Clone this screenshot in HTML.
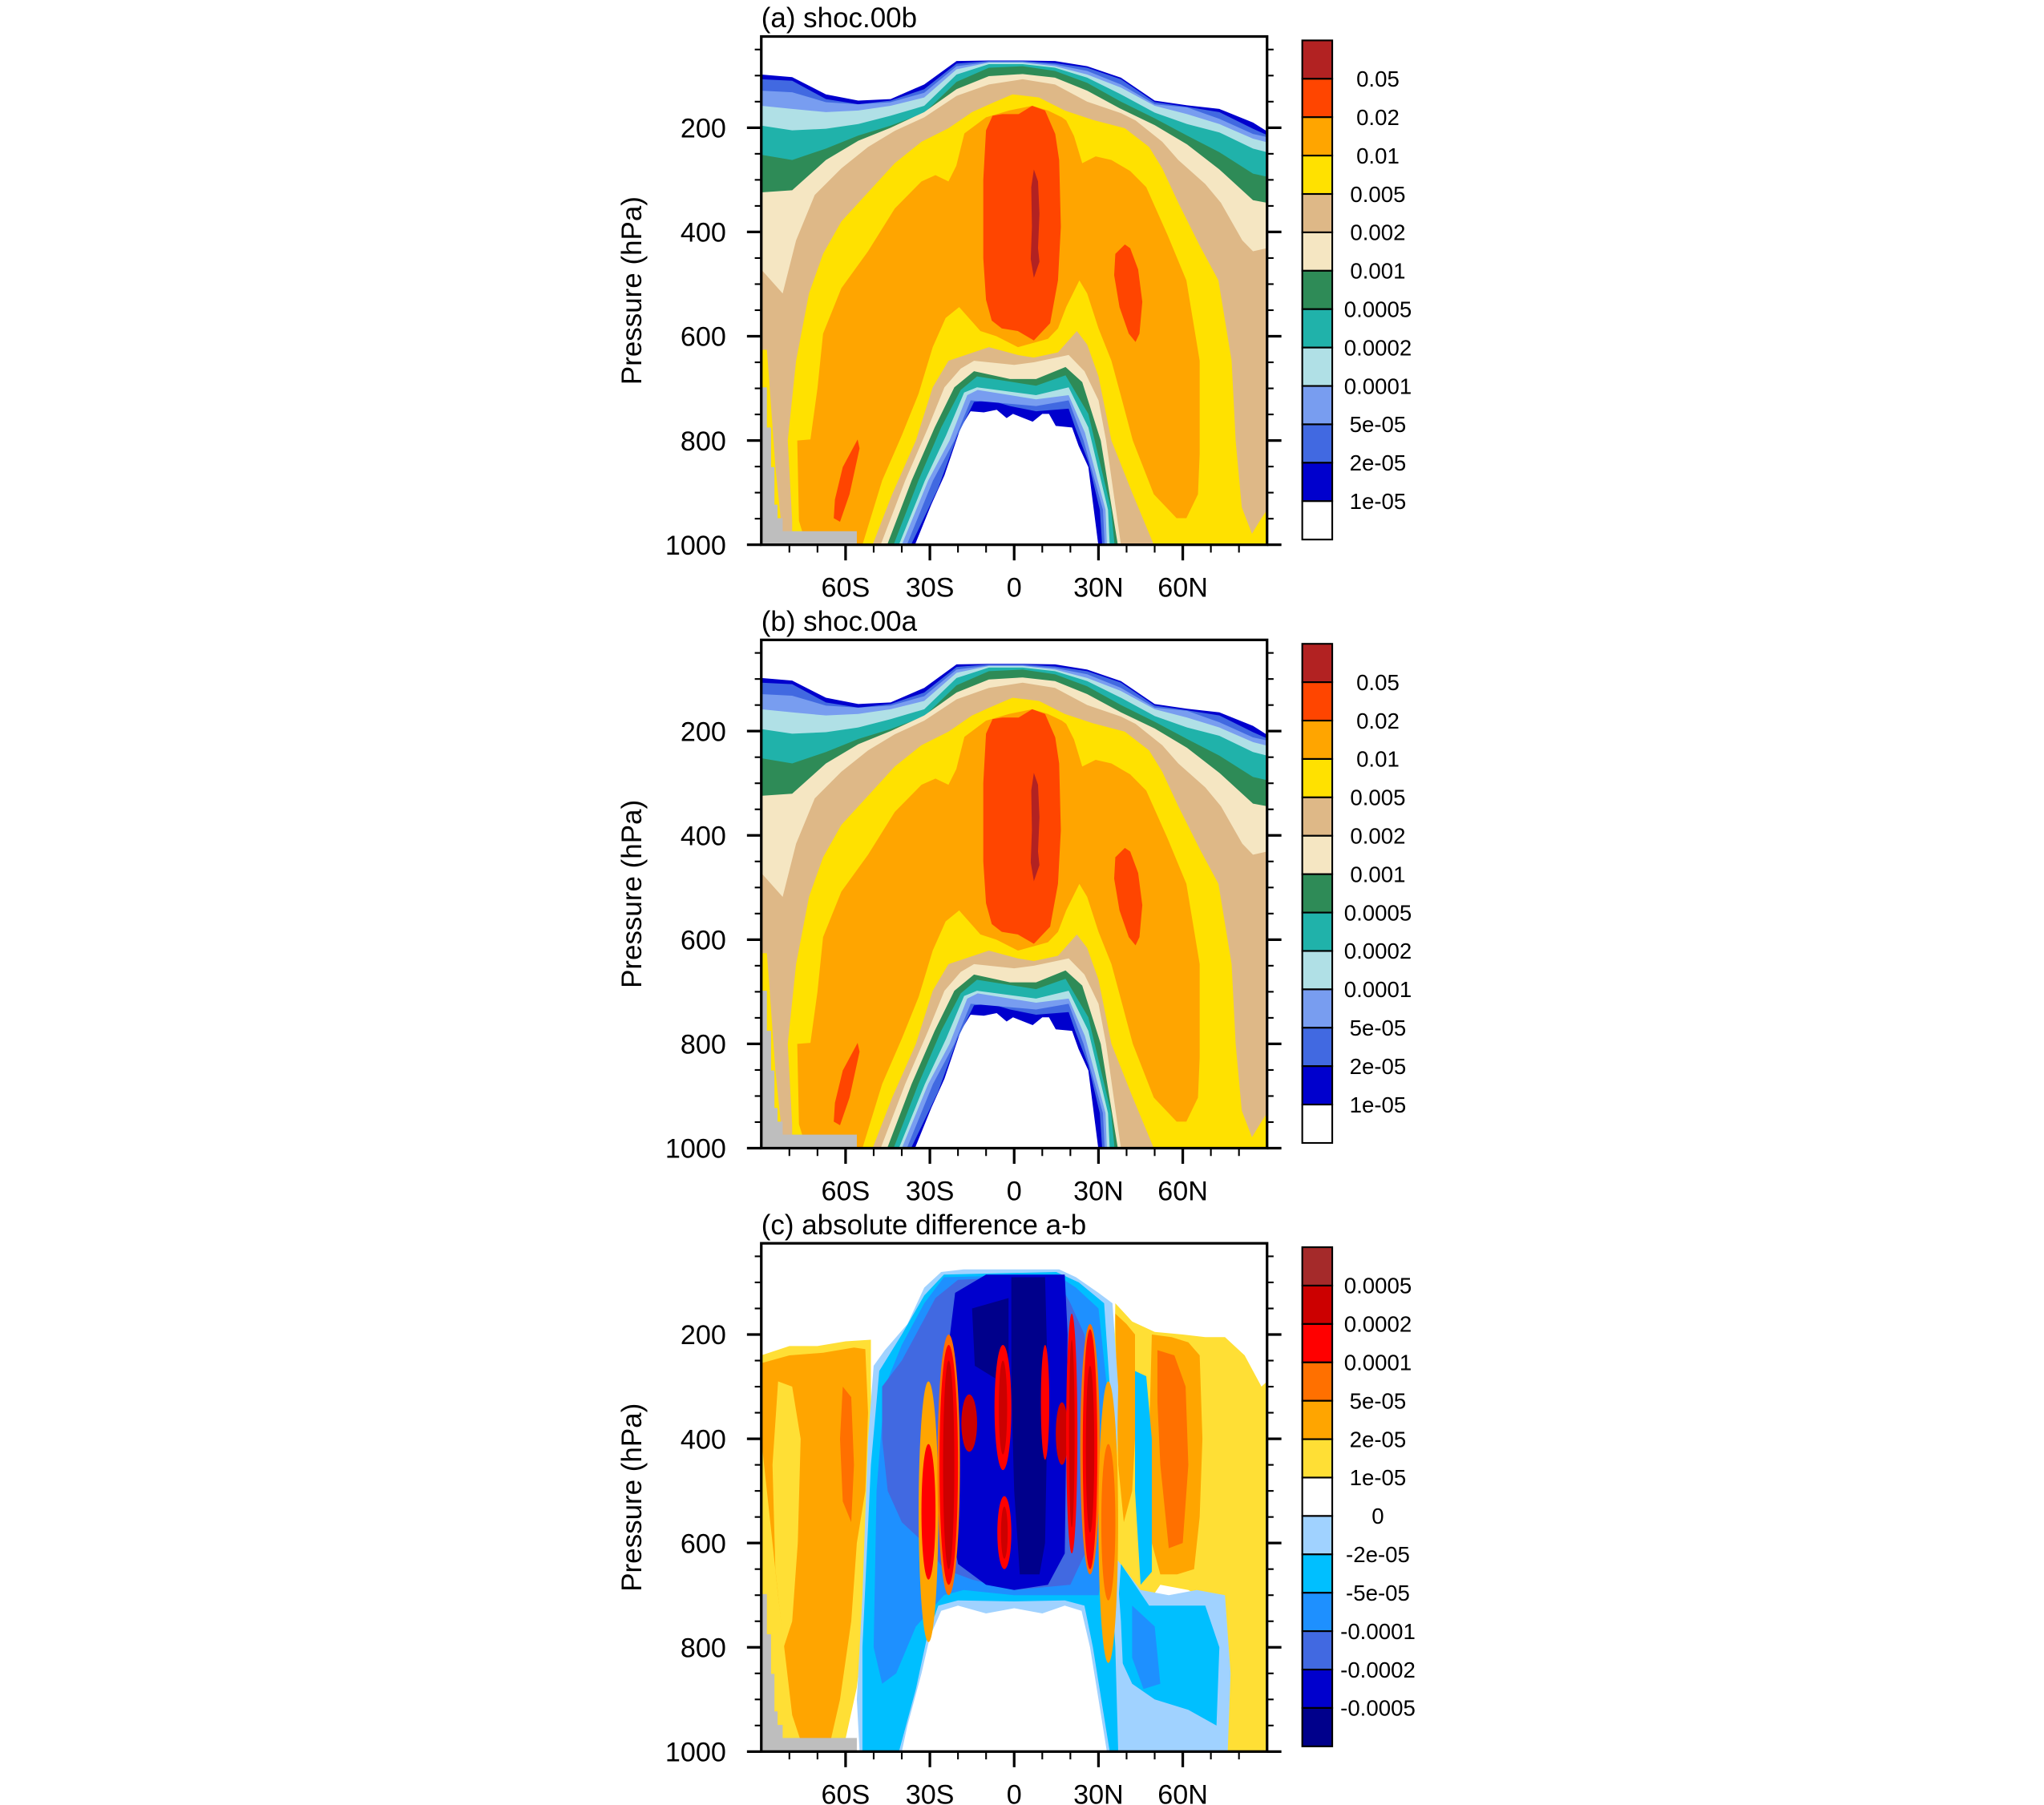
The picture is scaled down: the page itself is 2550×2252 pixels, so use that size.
<!DOCTYPE html>
<html><head><meta charset="utf-8">
<style>
html,body{margin:0;padding:0;background:#fff;}
svg{display:block;}
text{font-family:"Liberation Sans",Arial,sans-serif;fill:#000;}
</style></head>
<body>
<svg id="fig" xmlns="http://www.w3.org/2000/svg" width="2550" height="2252" viewBox="0 0 1568 1385" preserveAspectRatio="none">
<rect x="0" y="0" width="1568" height="1385" fill="#fff"/>
</svg>
<script>
// ---------- data ----------
const panelTitles = ["(a) shoc.00b", "(b) shoc.00a", "(c) absolute difference a-b"];
const latTickVals = [-60, -30, 0, 30, 60];
const latTickLabels = ["60S", "30S", "0", "30N", "60N"];
const presTickVals = [200, 400, 600, 800, 1000];
const presTickLabels = ["200", "400", "600", "800", "1000"];
const cbLabelsAB = ["0.05","0.02","0.01","0.005","0.002","0.001","0.0005","0.0002","0.0001","5e-05","2e-05","1e-05"];
const cbColorsAB = ["#B22222","#FF4500","#FFA500","#FFE100","#DEB887","#F5E6C2","#2E8B57","#20B2AA","#B0E0E6","#789DF0","#4169E1","#0000CD","#FFFFFF"];
const cbLabelsC = ["0.0005","0.0002","0.0001","5e-05","2e-05","1e-05","0","-2e-05","-5e-05","-0.0001","-0.0002","-0.0005"];
const cbColorsC = ["#A52A2A","#CC0000","#FF0000","#FF7000","#FFA500","#FFDF35","#FFFFFF","#A0D2FF","#00BFFF","#1E90FF","#4169E1","#0000CD","#00008B"];

// Panels a/b: level upper boundaries (hPa) at these latitudes
const latsTop = [-90,-79,-67,-55.5,-44,-32,-20.5,-9,3,14.5,26,38,50,61.5,73,85,90];
const topL1 = [98,103,136,148,145,117,72,71,71,72,82,104,148,157,164,190,207];
const topL2 = [107,110,145,155,148,126,77,72,72,76,85,107,151,160,170,202,214];
const topL3 = [129,132,151,155,151,133,82,74,74,79,91,117,155,161,183,212,218];
const topL4 = [158,164,170,167,158,142,88,75,75,82,98,123,158,174,193,221,228];
const topL5 = [196,205,202,193,177,158,98,78,78,85,104,136,171,193,209,240,247];
const topL6 = [252,262,240,215,196,172,112,85,82,91,114,150,182,215,247,288,294];
const topL7 = [324,320,262,225,200,170,126,101,97,104,129,164,195,232,280,339,344];
// lower (tropical minimum) boundaries [lat,p], right-bottom -> left-bottom
const holeL1 = [[29.9,1000],[26.4,851],[22.9,810],[20.6,775],[14.8,772],[12.4,749],[10,749],[6.6,764],[-0.4,749],[-2.7,757],[-6.2,741],[-10.8,746],[-15.5,744],[-19,775],[-24.8,867],[-29.5,923],[-35.3,1000]];
const holeL2 = [[31.3,1000],[30.5,933],[26.4,841],[21.7,775],[19.4,739],[7.8,744],[-1.5,734],[-8.5,723],[-14.3,726],[-20.2,790],[-27.1,892],[-36.7,1000]];
const holeL3 = [[32.2,1000],[31.6,933],[24.7,800],[19.4,723],[7.8,734],[-15.5,723],[-21.3,800],[-28.9,877],[-38.2,1000]];
const holeL4 = [[33,1000],[32.5,933],[25.2,785],[19.4,713],[7.8,721],[-13,703],[-16.7,713],[-23,800],[-30.6,877],[-40,1000]];
const holeL5 = [[34,1000],[33.4,933],[26.4,775],[19.4,698],[7.8,713],[-13.2,698],[-17.8,708],[-24.2,790],[-31.8,877],[-41,1000]];
const holeL6 = [[35.7,1000],[34.5,933],[26.4,749],[18.3,675],[7.8,695],[-13.2,677],[-19,703],[-26,775],[-34.1,877],[-42.9,1000]];
const holeL7 = [[36.9,1000],[30.8,800],[24.2,688],[18.3,659],[7.8,682],[-1.5,682],[-14.3,667],[-21.3,698],[-28.3,775],[-36.5,877],[-45.2,1000]];
const tanTop = [[-90,472],[-82.4,518],[-77.6,416],[-71,329],[-61.5,278],[-52,237],[-42.5,206],[-32,180],[-20.5,139],[-9,117],[3,107],[14.5,117],[26,150],[38,172],[43.2,186],[52.7,227],[58.4,262],[68,308],[73.6,344],[81.2,416],[85,437],[90,431],[90,1000]];
const tanHole = [[38,1000],[32.7,800],[30,723],[25,667],[19.4,636],[7,650],[0,655],[-14.3,647],[-19,662],[-24.8,698],[-30.6,775],[-38.8,877],[-47.5,1000],[-90,1000]];
const yellowTop = [[-90.6,626],[-88,626],[-87,700],[-85,850],[-83,954],[-82.4,1000],[-79,1000],[-79,954],[-80.6,800],[-77.6,647],[-73,518],[-68,442],[-61.5,380],[-52,324],[-42.5,268],[-33,227],[-23.4,201],[-15,170],[-8.8,155],[-0.6,136],[8.8,142],[18,167],[28,185],[39.4,201],[48,237],[52.7,278],[58.4,344],[66,426],[72.7,493],[77.4,647],[78.8,800],[81,928],[84.6,979],[88,949],[90,933],[90,1000]];
const yellowHole = [[49.7,1000],[42,900],[34.6,800],[30,677],[26,616],[22.3,590],[15.6,631],[7,641],[1.3,636],[-9,621],[-23.4,647],[-29,698],[-35,800],[-43.4,903],[-50.4,1000],[-90,1000]];
const orangeRegion = [[-74,1000],[-76.6,954],[-77.2,800],[-72.5,798],[-70,700],[-68,595],[-61.5,508],[-52,437],[-42.5,355],[-33,303],[-28,291],[-23.4,303],[-20.6,273],[-17.7,211],[-10,180],[-1.8,167],[6.4,158],[12,167],[17,180],[18.5,186],[21.3,216],[24.2,268],[29,255],[34.6,262],[41.3,283],[47,314],[54.6,406],[61.3,493],[66,647],[66,826],[65.4,903],[61.3,949],[57.8,949],[49.7,903],[42.2,800],[38.4,723],[34.6,647],[30,585],[26,518],[23.2,493],[18.5,544],[15.6,585],[12,605],[1.35,621],[-6.3,600],[-12,590],[-19.6,544],[-24.4,565],[-29,621],[-34,710],[-40,790],[-47,877],[-54,1000]];
const redCentral = [[-10,205],[-7.7,177],[-4.2,174],[1.6,174],[6.4,158],[11,167],[14.6,212],[16,262],[16.6,390],[15.6,493],[12.8,575],[7,608],[1.3,590],[-4.4,585],[-8,570],[-10,530],[-11,450],[-11,300]];
const redRight = [[39.4,424],[41.3,431],[44.1,472],[45.6,534],[44.6,595],[43.2,611],[40.8,595],[37.5,544],[35.6,483],[36,442]];
const redLeft = [[-55.7,798],[-55,815],[-58.6,903],[-62,956],[-64.2,949],[-63.8,913],[-61,851]];
const maxCore = [[7,280],[8.5,303],[9,365],[8.5,431],[9,457],[7,488],[5.9,452],[6.3,390],[6.1,314]];
const missingRegion = [[-90.6,698],[-88,698],[-88,775],[-86.5,775],[-86.5,851],[-85.3,851],[-85.3,923],[-84.2,923],[-84.2,949],[-82.4,949],[-82.4,974],[-56,974],[-56,1000],[-90.6,1000]];

// Panel c polygons [lat,p]
const cYellowL = [[-90,240],[-80,222],[-70,222],[-60,213],[-51,210],[-51,300],[-50.5,480],[-52,695],[-56,877],[-61,1000],[-90,1000]];
const cOrangeL = [[-90,255],[-80,240],[-68,235],[-57,225],[-53,228],[-52,350],[-53,500],[-56,600],[-58,750],[-62,900],[-66,995],[-75,995],[-79,930],[-84,700],[-88,500],[-90,400]];
const cYellowL2 = [[-84,290],[-79,300],[-76,400],[-77,600],[-79,750],[-82,800],[-85,650],[-86,450]];
const cDarkOrL = [[-61,300],[-58,320],[-57,450],[-58,560],[-61,520],[-62,400]];
const cYellowR = [[36,140],[42,175],[50,195],[60,200],[68,205],[75,205],[82,240],[88,300],[90,290],[90,1000],[76,1000],[75,800],[72,720],[62,690],[52,680],[47,720],[42,800],[38,750],[36,600],[35,400]];
const cOrangeR1 = [[36,160],[40,180],[43,200],[43,400],[42,500],[39,560],[37,450]];
const cOrangeR2 = [[49,200],[56,205],[62,215],[66,240],[67,400],[66,550],[64,650],[58,660],[52,660],[49,600],[48,400]];
const cDarkOrR = [[51,230],[57,240],[61,300],[62,450],[60,600],[55,610],[52,450],[51,330]];
const cSkyR = [[43,270],[47,280],[49,400],[49,655],[45,680],[43,500]];
const cLightBlueR = [[35,620],[45,690],[55,700],[65,690],[75,700],[77,850],[76,1000],[34,1000],[33,850]];
const cDeepSkyR = [[38,640],[48,720],[58,720],[68,720],[73,800],[72,950],[62,920],[50,900],[42,870],[36,800]];
const cDodgerR = [[42,720],[50,760],[52,870],[46,880],[42,820]];
const cLightBlueArch = [[-55,1000],[-56,900],[-54,700],[-52,400],[-50,260],[-46,230],[-38,180],[-32,110],[-26,80],[-18,75],[16,75],[22,90],[30,120],[35,140],[37,300],[36,600],[38,750],[40,1000],[33,1000],[30,900],[27,800],[24,730],[18,720],[10,735],[0,725],[-10,735],[-20,720],[-26,730],[-30,780],[-33,850],[-38,950],[-40,1000]];
const cDeepSkyArch = [[-54,1000],[-54,800],[-51,450],[-48,270],[-40,200],[-32,125],[-25,85],[15,80],[23,100],[32,140],[34,300],[34,600],[36,800],[37,1000],[34,1000],[31,900],[28,800],[25,720],[18,710],[0,712],[-20,710],[-27,720],[-31,780],[-35,880],[-41,1000]];
const cDodgerArch = [[-50,800],[-49,500],[-46,300],[-40,220],[-32,140],[-25,90],[15,85],[22,110],[30,150],[33,300],[33,600],[30,700],[18,700],[0,700],[-18,690],[-25,700],[-35,760],[-42,850],[-47,870]];
const cRoyal = [[-47,300],[-40,250],[-35,200],[-28,130],[-20,95],[0,90],[15,90],[20,140],[25,200],[28,400],[27,600],[20,680],[0,690],[-15,670],[-25,650],[-32,600],[-40,560],[-45,500],[-47,400]];
const cMedBlue = [[-24,250],[-21,120],[-10,85],[18,85],[19,200],[18,620],[12,680],[0,690],[-10,680],[-20,640],[-25,500]];
const cNavy = [[-1,90],[11,90],[12,300],[11,600],[9,660],[2,660],[0,500],[-1,300]];
const cNavy2 = [[-15,150],[-2,130],[-2,300],[-8,280],[-14,260]];
// blobs: lat, p, half-lat, half-p
const blobLat = [-30.5,-30.5,-23.3,-23.3,-23.3,-16,-4,-4,-3.5,-3.5,11,17,20.5,20.5,27,27,27,33.5,33.5];
const blobP   = [540,540,450,450,450,370,340,340,580,580,330,390,390,390,420,420,420,560,560];
const blobDx  = [3.5,2.5,4,3.3,2,2.8,3,1.5,2.5,1.2,1.5,2.2,2,1,3.5,2.6,1.5,3.5,2.5];
const blobDp  = [250,130,250,230,200,55,120,90,70,50,110,60,230,180,240,230,160,270,150];
const blobCol = ["#FFA500","#FF0000","#FF7000","#FF0000","#CC0000","#CC0000","#FF0000","#CC0000","#FF0000","#CC0000","#FF0000","#CC0000","#FF0000","#CC0000","#FF7000","#FF0000","#CC0000","#FFA500","#FF7000"];

// ---------- drawing ----------
const NS = "http://www.w3.org/2000/svg";
const svg = document.getElementById('fig');
const PL = 584, PR = 972, PH = 390, PTOPS = [28, 491, 954];
function mk(tag, attrs, parent){ const e=document.createElementNS(NS,tag); for(const k in attrs) e.setAttribute(k,attrs[k]); (parent||svg).appendChild(e); return e; }
function xS(lat){ return PL + (lat+90)/180*(PR-PL); }
function yS(p, top){ return top + (p-25)/975*PH; }
function ptsStr(list, top){ return list.map(d=>xS(d[0]).toFixed(1)+","+yS(d[1],top).toFixed(1)).join(" "); }
function poly(g, list, top, fill, name){
  const e = mk('polygon',{points:ptsStr(list,top),fill:fill},g);
  
  
  return e;
}
function levelPoly(topArr, hole){
  const l = latsTop.map((la,i)=>[la, topArr[i]]);
  return l.concat([[90,1000]]).concat(hole).concat([[-90,1000]]);
}

PTOPS.forEach((top, pi)=>{
  const g = mk('g',{});
  
  
  const cp = mk('clipPath',{id:'clip'+pi},g);
  mk('rect',{x:PL,y:top,width:PR-PL,height:PH},cp);
  const f = mk('g',{'clip-path':'url(#clip'+pi+')'},g);
  
  
  mk('rect',{x:PL,y:top,width:PR-PL,height:PH,fill:'#fff'},f);
  if(pi<2){
    const tops=[topL1,topL2,topL3,topL4,topL5,topL6,topL7];
    const holes=[holeL1,holeL2,holeL3,holeL4,holeL5,holeL6,holeL7];
    const cols=[cbColorsAB[11],cbColorsAB[10],cbColorsAB[9],cbColorsAB[8],cbColorsAB[7],cbColorsAB[6],cbColorsAB[5]];
    for(let i=0;i<7;i++) poly(f, levelPoly(tops[i],holes[i]), top, cols[i], 'contour-level-'+(i+1));
    poly(f, tanTop.concat(tanHole), top, cbColorsAB[4], 'contour-level-8');
    poly(f, yellowTop.concat(yellowHole), top, cbColorsAB[3], 'contour-level-9');
    poly(f, orangeRegion, top, cbColorsAB[2], 'contour-level-10');
    poly(f, redCentral, top, cbColorsAB[1], 'contour-level-11-central');
    poly(f, redRight, top, cbColorsAB[1], 'contour-level-11-north');
    poly(f, redLeft, top, cbColorsAB[1], 'contour-level-11-south');
    poly(f, maxCore, top, cbColorsAB[0], 'contour-level-12');
    poly(f, missingRegion, top, '#BEBEBE', 'missing-data');
  } else {
    poly(f, cYellowL, top, '#FFDF35', 'diff-yellow-south');
    poly(f, cOrangeL, top, '#FFA500', 'diff-orange-south');
    poly(f, cYellowL2, top, '#FFDF35', 'diff-yellow-south-inner');
    poly(f, cDarkOrL, top, '#FF7000', 'diff-darkorange-south');
    poly(f, cYellowR, top, '#FFDF35', 'diff-yellow-north');
    poly(f, cOrangeR1, top, '#FFA500', 'diff-orange-north-1');
    poly(f, cOrangeR2, top, '#FFA500', 'diff-orange-north-2');
    poly(f, cDarkOrR, top, '#FF7000', 'diff-darkorange-north');
    poly(f, cSkyR, top, '#00BFFF', 'diff-sky-north');
    poly(f, cLightBlueR, top, '#A0D2FF', 'diff-lightblue-north');
    poly(f, cDeepSkyR, top, '#00BFFF', 'diff-deepsky-north');
    poly(f, cDodgerR, top, '#1E90FF', 'diff-dodger-north');
    poly(f, cLightBlueArch, top, '#A0D2FF', 'diff-lightblue-arch');
    poly(f, cDeepSkyArch, top, '#00BFFF', 'diff-deepsky-arch');
    poly(f, cDodgerArch, top, '#1E90FF', 'diff-dodger-arch');
    poly(f, cRoyal, top, '#4169E1', 'diff-royal');
    poly(f, cMedBlue, top, '#0000CD', 'diff-mediumblue');
    poly(f, cNavy, top, '#00008B', 'diff-navy');
    poly(f, cNavy2, top, '#00008B', 'diff-navy-2');
    for(let i=0;i<blobLat.length;i++){
      const cx=xS(blobLat[i]), cy=yS(blobP[i],top);
      const rx=xS(blobLat[i]+blobDx[i])-cx, ry=yS(blobP[i]+blobDp[i],top)-cy;
      const e=mk('ellipse',{cx:cx,cy:cy,rx:rx,ry:ry,fill:blobCol[i]},f);
      
      
    }
    poly(f, missingRegion, top, '#BEBEBE', 'missing-data');
  }
  const fr = mk('rect',{x:PL,y:top,width:PR-PL,height:PH,fill:'none',stroke:'#000','stroke-width':2},g);
  
  
  const t = mk('text',{x:PL,y:top-7,'font-size':21.5},g);
  t.textContent = panelTitles[pi];
  
  
  for(let p=50;p<=1000;p+=50){
    const y=yS(p,top), major=(p%200===0);
    const L=major?11:5;
    mk('line',{x1:PL-L,y1:y,x2:PL,y2:y,stroke:'#000','stroke-width':major?2:1.3},g);
    mk('line',{x1:PR,y1:y,x2:PR+L,y2:y,stroke:'#000','stroke-width':major?2:1.3},g);
  }
  presTickVals.forEach((p,i)=>{
    const e=mk('text',{x:557,y:yS(p,top)+7.5,'font-size':21,'text-anchor':'end'},g);
    e.textContent=presTickLabels[i];
    
    
  });
  for(let la=-80;la<=80;la+=10){
    const x=xS(la), major=(la%30===0);
    mk('line',{x1:x,y1:top+PH,x2:x,y2:top+PH+(major?12:6),stroke:'#000','stroke-width':major?2:1.3},g);
  }
  latTickVals.forEach((la,i)=>{
    const e=mk('text',{x:xS(la),y:top+PH+40,'font-size':21,'text-anchor':'middle'},g);
    e.textContent=latTickLabels[i];
    
    
  });
  const yt=mk('text',{x:0,y:0,'font-size':21.5,'text-anchor':'middle',transform:'translate(492,'+(top+PH/2)+') rotate(-90)'},g);
  yt.textContent='Pressure (hPa)';
  
  
  const cols = pi<2?cbColorsAB:cbColorsC, labs = pi<2?cbLabelsAB:cbLabelsC;
  const cbT=top+3, cbB=top+PH-4, n=cols.length, bh=(cbB-cbT)/n;
  const cb=mk('g',{},g);
  
  
  cols.forEach((c,i)=>{
    const r=mk('rect',{x:999,y:cbT+i*bh,width:23,height:bh,fill:c,stroke:'#000','stroke-width':1.3},cb);
    
    
  });
  labs.forEach((s,i)=>{
    const e=mk('text',{x:1057,y:cbT+(i+1)*bh+6,'font-size':17,'text-anchor':'middle'},cb);
    e.textContent=s;
    
    
  });
});
</script>
</body></html>
